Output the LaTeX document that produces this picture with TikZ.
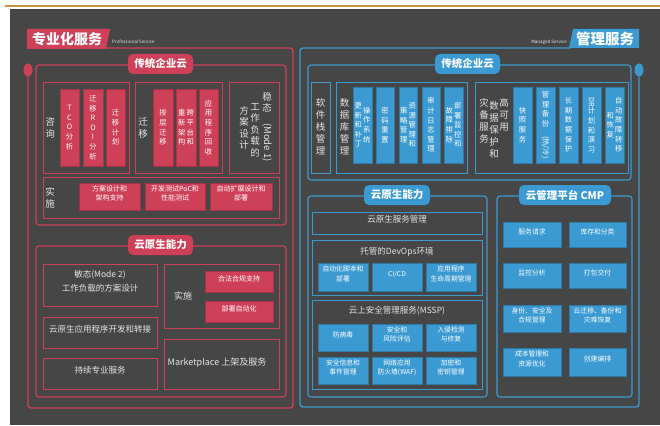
\documentclass[tikz,border=0pt]{standalone}
\usepackage{fontspec}
\usepackage{graphicx}
\setmainfont{Noto Sans CJK SC}
\usetikzlibrary{fit,shapes.geometric}
\definecolor{bg}{HTML}{464646}
\definecolor{myred}{HTML}{CE4058}
\definecolor{myblue}{HTML}{3B9AD1}
\definecolor{gold}{HTML}{C9953F}
\definecolor{lt}{HTML}{E4E4E4}
\newcommand{\bx}[7]{\node[#1, fit={(#3,#4) (#5,#6)}, inner sep=0pt] (#2) {#7};}
\newcommand{\rt}[1]{\rotatebox{-90}{#1}}
\begin{document}
\begin{tikzpicture}[x=1pt,y=-1pt,
  frameR/.style={draw=myred, line width=1.2pt, rounded corners=3pt},
  frameB/.style={draw=myblue, line width=1.2pt, rounded corners=3pt},
  oR/.style={draw=myred, line width=0.9pt, text=lt, align=center, font=\fontsize{8.5}{14}\selectfont},
  oB/.style={draw=myblue, line width=0.9pt, text=lt, align=center, font=\fontsize{8.5}{14}\selectfont},
  fR/.style={fill=myred, draw=myred!80!black, line width=0.4pt, text=white, align=center, font=\fontsize{7}{9.5}\selectfont},
  fB/.style={fill=myblue, draw=myblue!80!black, line width=0.4pt, text=white, align=center, font=\fontsize{6.8}{9.5}\selectfont},
  pillR/.style={fill=myred, rounded corners=5pt, text=white, font=\bfseries\fontsize{10.5}{12}\selectfont, minimum height=20pt, inner sep=0pt},
  pillB/.style={fill=myblue, rounded corners=5pt, text=white, font=\bfseries\fontsize{10.5}{12}\selectfont, minimum height=20pt, inner sep=0pt},
  vt/.style={text=white, align=center, font=\fontsize{7.3}{9.6}\selectfont, inner sep=0pt},
  vl/.style={text=lt, align=center, font=\fontsize{9.5}{12}\selectfont, inner sep=0pt},
  tiny/.style={text=lt, font=\fontsize{4.5}{5}\selectfont, inner sep=0pt},
  banner/.style={text=white, font=\bfseries\fontsize{14}{16}\selectfont, inner sep=0pt}
]
\useasboundingbox (0,0) rectangle (660,425);
\fill[white] (0,0) rectangle (660,425);
\fill[bg] (10,9) rectangle (660,425);
\draw[gold, line width=2pt] (5,6.5) -- (660,6.5);

% ================= LEFT =================
\fill[myred] (27,29) -- (110,29) -- (106,49) -- (27,49) -- cycle;
\node[banner] (tL) at (67,39) {专业化服务};
\node[tiny, anchor=west] (sL) at (112,42) {Professional Service};
\node[ellipse, fill=myred, minimum width=9pt, minimum height=13pt, inner sep=0pt] (dotL) at (28,70) {};
\draw[myred, line width=1.4pt, rounded corners=3pt] (dotL.south) -- (28,408) -- (293,408) -- (293,48) -- (106,48);

% 传统企业云 (left)
\bx{frameR}{fL1}{36}{65}{286}{225}{}
\node[pillR, minimum width=65pt] (pL1) at (160.5,64) {传统企业云};

\bx{oR}{zx}{43}{82}{129}{173}{}
\node[vl] (zxl) at (50,128) {咨\\询};
\bx{fR}{c1}{60}{89}{79}{166}{}
\node[vt] at (c1) {T\\C\\O\\分\\析};
\bx{fR}{c2}{83}{89}{103}{166}{}
\node[vt] at (c2) {迁\\移\\R\\O\\I\\分\\析};
\bx{fR}{c3}{106}{89}{125}{166}{}
\node[vt] at (c3) {迁\\移\\计\\划};

\bx{oR}{qy}{135}{82}{222}{173}{}
\node[vl] (qyl) at (143,128) {迁\\移};
\bx{fR}{c4}{153}{89}{173}{166}{}
\node[vt] at (c4) {按\\层\\迁\\移};
\bx{fR}{c5}{176}{89}{196}{166}{}
\node[vt] at ([xshift=4.3pt]c5.center) {跨\\平\\台\\和};
\node[vt] at ([xshift=-4.3pt]c5.center) {重\\新\\架\\构};
\bx{fR}{c6}{199}{89}{218}{166}{}
\node[vt] at (c6) {应\\用\\程\\序\\回\\收};

\bx{oR}{wt}{229}{82}{279}{173}{}
\node[vl, font=\fontsize{9.5}{11.5}\selectfont] (wt1) at (267,127) {稳\\态\\\rt{(Mode 1)}};
\node[vl, font=\fontsize{9.5}{11.5}\selectfont] (wt2) at (255,130) {工\\作\\负\\载\\的};
\node[vl, font=\fontsize{9.5}{11.5}\selectfont] (wt3) at (244,128) {方\\案\\设\\计};

\bx{oR}{ss}{43}{177}{279}{218}{}
\node[vl] (ssl) at (50,197.5) {实\\施};
\bx{fR}{s1}{79}{183}{140}{210}{方案设计和\\架构支持}
\bx{fR}{s2}{145}{183}{205}{210}{开发测试PoC和\\性能测试}
\bx{fR}{s3}{210}{183}{272}{210}{自动扩展设计和\\部署}

% 云原生能力 (left)
\bx{frameR}{fL2}{36}{246}{286}{397}{}
\node[pillR, minimum width=65pt] (pL2) at (160.5,245) {云原生能力};
\bx{oR}{m2}{43}{264}{157}{306}{敏态(Mode 2)\\工作负载的方案设计}
\bx{oR}{yy}{43}{317}{157}{348}{云原生应用程序开发和转接}
\bx{oR}{cx}{43}{358}{157}{389}{持续专业服务}
\bx{oR}{ss2}{164}{264}{279}{328}{}
\node[text=lt, font=\fontsize{9}{11}\selectfont] (ss2l) at (183,296) {实施};
\bx{fR}{hf}{205}{271}{273}{292}{合法合规支持}
\bx{fR}{bs}{205}{301}{273}{322}{部署自动化}
\bx{oR}{mk}{164}{339}{279}{389}{}
\node[text=lt, font=\fontsize{9}{11}\selectfont] (mkl) at (217,363) {Marketplace 上架及服务};

% ================= RIGHT =================
\fill[myblue] (573,29) -- (639,29) -- (639,48) -- (569,48) -- cycle;
\node[banner, font=\bfseries\fontsize{14.5}{16}\selectfont] (tR) at (605,39) {管理服务};
\node[tiny, anchor=east] (sR) at (567,42) {Managed Service};
\node[ellipse, fill=myblue, minimum width=9pt, minimum height=13pt, inner sep=0pt] (dotR) at (639,70) {};
\draw[myblue, line width=1.4pt, rounded corners=3pt] (dotR.south) -- (639,407) -- (300,407) -- (300,48) -- (571,48);

% 传统企业云 (right)
\bx{frameB}{fR1}{308}{65}{631}{180}{}
\node[pillB, minimum width=65pt] (pR1) at (467.5,64) {传统企业云};

\bx{oB}{rj}{311}{82}{330}{173}{}
\node[vl] (rjl) at (320.5,127) {软\\件\\栈\\管\\理};

\bx{oB}{sj}{336}{82}{467}{173}{}
\node[vl] (sjl) at (344.5,127) {数\\据\\库\\管\\理};
\bx{fB}{d1}{353}{87}{372}{163}{}
\node[vt] at ([xshift=4.3pt]d1.center) {操\\作\\系\\统};
\node[vt] at ([xshift=-4.3pt]d1.center) {更\\新\\和\\补\\丁};
\bx{fB}{d2}{376}{87}{394}{163}{}
\node[vt] at (d2) {密\\码\\重\\置};
\bx{fB}{d3}{399}{87}{417}{163}{}
\node[vt] at ([xshift=4.3pt]d3.center) {资\\源\\管\\理\\和};
\node[vt] at ([xshift=-4.3pt]d3.center) {策\\略\\管\\理};
\bx{fB}{d4}{422}{87}{440}{163}{}
\node[vt] at (d4) {审\\计\\日\\志\\管\\理};
\bx{fB}{d5}{444}{87}{463}{163}{}
\node[vt] at ([xshift=4.3pt]d5.center) {部\\署\\监\\控\\和};
\node[vt] at ([xshift=-4.3pt]d5.center) {故\\障\\排\\除};

\bx{oB}{gk}{475}{82}{628}{173}{}
\node[vl] (gk1) at (504,115) {高\\可\\用};
\node[vl] (gk2) at (494,130) {数\\据\\保\\护\\和};
\node[vl] (gk3) at (484,121) {灾\\备\\服\\务};
\bx{fB}{e1}{513}{87}{532}{163}{}
\node[vt] at (e1) {快\\照\\服\\务};
\bx{fB}{e2}{536}{87}{555}{163}{}
\node[vt] at (e2) {管\\理\\备\\份\\\rt{(热/冷)}};
\bx{fB}{e3}{559}{87}{578}{163}{}
\node[vt] at (e3) {长\\期\\数\\据\\保\\护};
\bx{fB}{e4}{582}{87}{601}{163}{}
\node[vt] at (e4) {\rt{DR}\\计\\划\\和\\演\\习};
\bx{fB}{e5}{605}{87}{624}{163}{}
\node[vt] at ([xshift=4.3pt]e5.center) {自\\动\\故\\障\\转\\移};
\node[vt] at ([xshift=-4.3pt]e5.center) {和\\恢\\复};

% 云原生能力 (right)
\bx{frameB}{fR2}{308}{196}{487}{397}{}
\node[pillB, minimum width=66pt] (pR2) at (397,195) {云原生能力};
\bx{oB}{yf}{312}{212}{482}{234}{云原生服务管理}
\bx{oB}{dv}{312}{240}{482}{295}{}
\node[text=lt, font=\fontsize{8.5}{10}\selectfont] (dvl) at (397,251.5) {托管的DevOps环境};
\bx{fB}{v1}{318}{263}{368}{291}{自动化脚本和\\部署}
\bx{fB}{v2}{372}{263}{422}{291}{CI/CD}
\bx{fB}{v3}{426}{263}{476}{291}{应用程序\\生命周期管理}
\bx{oB}{ms}{312}{300}{482}{389}{}
\node[text=lt, font=\fontsize{8.5}{10}\selectfont] (msl) at (397,311) {云上安全管理服务(MSSP)};
\bx{fB}{a1}{318}{324}{368}{351}{防病毒}
\bx{fB}{a2}{372}{324}{422}{351}{安全和\\风险评估}
\bx{fB}{a3}{426}{324}{476}{351}{入侵检测\\与修复}
\bx{fB}{a4}{318}{357}{368}{384}{安全信息和\\事件管理}
\bx{fB}{a5}{372}{357}{422}{384}{网络应用\\防火墙(WAF)}
\bx{fB}{a6}{426}{357}{476}{384}{加密和\\密钥管理}

% 云管理平台 CMP
\bx{frameB}{fR3}{497}{196}{632}{397}{}
\node[pillB, minimum width=92pt] (pR3) at (565,195) {云管理平台 CMP};
\bx{fB}{b1}{503}{222}{561}{247}{服务请求}
\bx{fB}{b2}{569}{222}{626}{247}{库存和分类}
\bx{fB}{b3}{503}{263}{561}{288}{监控分析}
\bx{fB}{b4}{569}{263}{626}{288}{打包交付}
\bx{fB}{b5}{503}{305}{561}{332}{身份、安全及\\合规管理}
\bx{fB}{b6}{569}{305}{626}{332}{云迁移、备份和\\灾难恢复}
\bx{fB}{b7}{503}{348}{561}{376}{成本管理和\\资源优化}
\bx{fB}{b8}{569}{348}{626}{376}{创建编排}
\end{tikzpicture}
\end{document}
